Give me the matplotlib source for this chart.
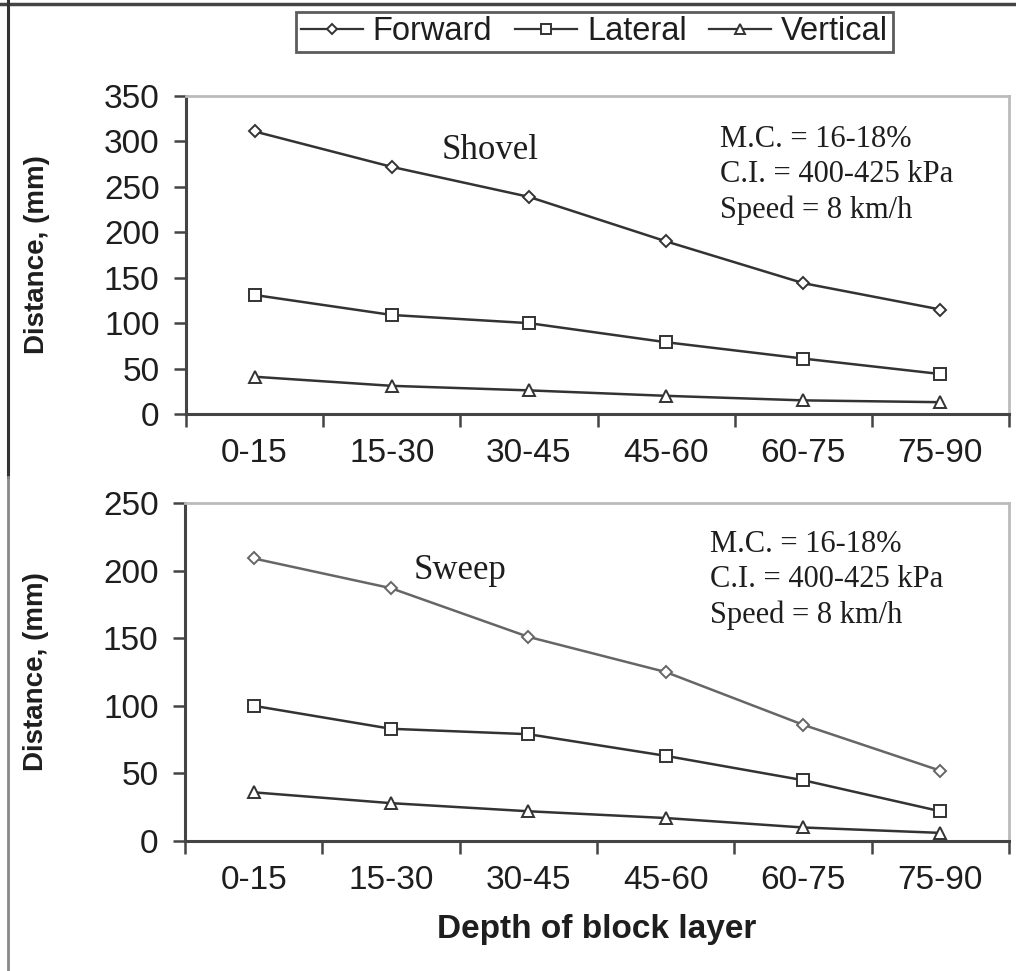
import numpy as np
import matplotlib.pyplot as plt
from matplotlib.lines import Line2D

# Dados (distância em mm por camada)
depths = ['0-15', '15-30', '30-45', '45-60', '60-75', '75-90']

shovel_forward = [311, 272, 239, 190, 144, 115]
shovel_lateral = [131, 109, 100, 79, 61, 44]
shovel_vertical = [41, 31, 26, 20, 15, 13]

sweep_forward = [209, 187, 151, 125, 86, 52]
sweep_lateral = [100, 83, 79, 63, 45, 22]
sweep_vertical = [36, 28, 22, 17, 10, 6]

conditions = 'M.C. = 16-18%\nC.I. = 400-425 kPa\nSpeed = 8 km/h'

W, H = 1016, 971
fig = plt.figure(figsize=(W/100, H/100), dpi=100)
sans = 'Liberation Sans'
serif = 'Liberation Serif'
txtc = '#1e1e1e'

def px(x0, y0, x1, y1):
    # caixa em pixels -> fração da figura
    return [x0/W, 1 - y1/H, (x1 - x0)/W, (y1 - y0)/H]

def panel(rect, fwd, lat, ver, ymax, name, name_xy, cond_xy, fcol):
    ax = fig.add_axes(rect)
    x = np.arange(len(depths))
    ax.plot(x, fwd, '-', color=fcol, lw=1.8, marker='D', ms=6.5, mfc='white',
            mec=fcol, mew=1.4)
    ax.plot(x, lat, '-', color='#333333', lw=1.8, marker='s', ms=8, mfc='white',
            mec='#333333', mew=1.4)
    ax.plot(x, ver, '-', color='#333333', lw=1.8, marker='^', ms=9, mfc='white',
            mec='#333333', mew=1.4)
    ax.set_xlim(-0.5, len(depths) - 0.5)
    ax.set_ylim(0, ymax)
    ax.set_yticks(np.arange(0, ymax + 1, 50))
    ax.set_xticks(np.arange(-0.5, len(depths)), [])
    ax.set_xticks(x, depths, minor=True)
    ax.tick_params(axis='x', which='major', direction='out', length=9, width=1.8,
                   color='#444444')
    ax.tick_params(axis='x', which='minor', length=0, pad=17, labelsize=24,
                   labelcolor=txtc)
    ax.tick_params(axis='y', direction='out', length=9, width=1.8, color='#444444',
                   pad=10, labelsize=24, labelcolor=txtc)
    for lab in ax.get_xticklabels(minor=True) + ax.get_yticklabels():
        lab.set_family(sans)
    for s in ['left', 'bottom']:
        ax.spines[s].set_color('#444444')
        ax.spines[s].set_linewidth(2.2)
    for s in ['top', 'right']:
        ax.spines[s].set_color('#bbbbbb')
        ax.spines[s].set_linewidth(2)
    ax.set_ylabel('Distance, (mm)', family=sans, fontsize=20, fontweight='bold',
                  color=txtc)
    ax.yaxis.set_label_coords(-0.165, 0.5)
    ax.text(name_xy[0], name_xy[1], name, transform=ax.transAxes, family=serif,
            fontsize=25, color=txtc, ha='center', va='center')
    ax.text(cond_xy[0], cond_xy[1], conditions, transform=ax.transAxes, family=serif,
            fontsize=22, color=txtc, ha='left', va='center', linespacing=1.29)
    return ax

ax1 = panel(px(186, 96, 1009, 414), shovel_forward, shovel_lateral, shovel_vertical,
            350, 'Shovel', (0.370, 0.83), (0.649, 0.752), '#333333')
ax2 = panel(px(185, 503, 1009, 841), sweep_forward, sweep_lateral, sweep_vertical,
            250, 'Sweep', (0.334, 0.80), (0.637, 0.772), '#666666')
ax2.set_xlabel('Depth of block layer', family=sans, fontsize=24, fontweight='bold',
               color=txtc, labelpad=13)

handles = [Line2D([], [], color='#333333', lw=1.6, marker=m, ms=s, mfc='white',
                  mec='#333333', mew=1.4) for m, s in [('D', 5.5), ('s', 6.5), ('^', 7)]]
leg = fig.legend(handles, ['Forward', 'Lateral', 'Vertical'], loc='center',
                 bbox_to_anchor=(594.5/W, 1 - 32/H), ncol=3, frameon=True,
                 fancybox=False, handlelength=1.9, handletextpad=0.3,
                 columnspacing=0.7, borderpad=0.15, borderaxespad=0,
                 prop={'family': sans, 'size': 23.5})
leg.get_frame().set_edgecolor('#333333')
leg.get_frame().set_linewidth(2)
for t in leg.get_texts():
    t.set_color(txtc)

# bordas do recorte original
fig.add_artist(Line2D([0, 1], [1 - 4/H, 1 - 4/H], color='#444444', lw=2.5))
fig.add_artist(Line2D([8/W, 8/W], [1, 1 - 477/H], color='#333333', lw=2.2))
fig.add_artist(Line2D([8/W, 8/W], [1 - 477/H, 0], color='#888888', lw=2))

fig.savefig('out.png', dpi=100)
